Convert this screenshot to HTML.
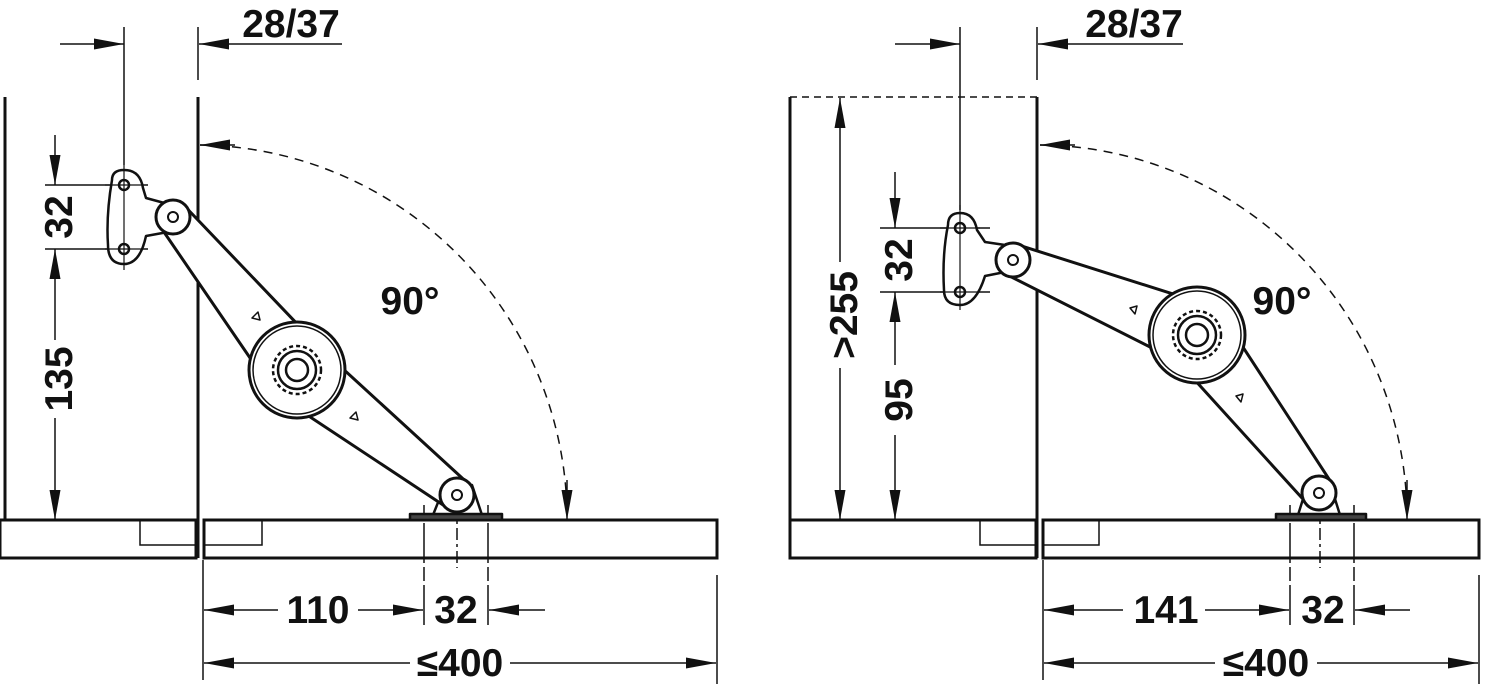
<!DOCTYPE html>
<html><head><meta charset="utf-8"><style>
html,body{margin:0;padding:0;background:#fff;}
svg{display:block;}
text{font-family:"Liberation Sans",Arial,sans-serif;font-weight:bold;font-size:39px;fill:#111;}
</style></head><body>
<svg width="1488" height="684" viewBox="0 0 1488 684" xmlns="http://www.w3.org/2000/svg">
<defs>
<marker id="a" viewBox="0 0 30 11" refX="30" refY="5.5" markerWidth="30" markerHeight="11" markerUnits="userSpaceOnUse" orient="auto"><path d="M0,0 L30,5.5 L0,11 Z" fill="#111"/></marker>
</defs>
<g stroke="#111" fill="none">
<line x1="5" y1="97" x2="5" y2="520" stroke-width="3"/>
<line x1="198" y1="97" x2="198" y2="558" stroke-width="3"/>
<line x1="198" y1="27" x2="198" y2="80" stroke-width="1.5"/>
<line x1="124" y1="27" x2="124" y2="165" stroke-width="1.5"/>
<rect x="0" y="520" width="196" height="38" stroke-width="3"/>
<rect x="140" y="520" width="56" height="25" stroke-width="1.5"/>
<rect x="204" y="520" width="513" height="38" stroke-width="3"/>
<rect x="204" y="520" width="58" height="25" stroke-width="1.5"/>
<line x1="60" y1="44" x2="124" y2="44" stroke-width="1.5" marker-end="url(#a)"/>
<line x1="342" y1="44" x2="199" y2="44" stroke-width="1.5" marker-end="url(#a)"/>
<path d="M 200 145 A 372 375 0 0 1 567 510" stroke-width="1.5" stroke-dasharray="9,7"/>
<line x1="235" y1="145" x2="200" y2="145" stroke-width="1.5" marker-end="url(#a)"/>
<line x1="567" y1="480" x2="567" y2="520" stroke-width="1.5" marker-end="url(#a)"/>
<line x1="45" y1="185" x2="148" y2="185" stroke-width="1.5"/>
<line x1="45" y1="249" x2="148" y2="249" stroke-width="1.5"/>
<line x1="55" y1="135" x2="55" y2="185" stroke-width="1.5" marker-end="url(#a)"/>
<line x1="55" y1="340" x2="55" y2="249" stroke-width="1.5" marker-end="url(#a)"/>
<line x1="55" y1="418" x2="55" y2="520" stroke-width="1.5" marker-end="url(#a)"/>
<line x1="203" y1="560" x2="203" y2="680" stroke-width="1.5"/>
<line x1="717" y1="575" x2="717" y2="684" stroke-width="1.5"/>
<line x1="424" y1="505" x2="424" y2="628" stroke-width="1.5" stroke-dasharray="14,4,40,4"/>
<line x1="488" y1="505" x2="488" y2="628" stroke-width="1.5" stroke-dasharray="14,4,40,4"/>
<line x1="457" y1="505" x2="457" y2="568" stroke-width="1.5" stroke-dasharray="12,4,3,4"/>
<line x1="278" y1="610" x2="204" y2="610" stroke-width="1.5" marker-end="url(#a)"/>
<line x1="358" y1="610" x2="423" y2="610" stroke-width="1.5" marker-end="url(#a)"/>
<line x1="545" y1="610" x2="489" y2="610" stroke-width="1.5" marker-end="url(#a)"/>
<line x1="410" y1="663" x2="204" y2="663" stroke-width="1.5" marker-end="url(#a)"/>
<line x1="510" y1="663" x2="716" y2="663" stroke-width="1.5" marker-end="url(#a)"/>

<line x1="790" y1="97" x2="1037" y2="97" stroke-width="1.5" stroke-dasharray="7,5"/>
<line x1="790" y1="97" x2="790" y2="520" stroke-width="3"/>
<line x1="1037" y1="97" x2="1037" y2="558" stroke-width="3"/>
<line x1="1037" y1="27" x2="1037" y2="80" stroke-width="1.5"/>
<line x1="960" y1="27" x2="960" y2="210" stroke-width="1.5"/>
<rect x="790" y="520" width="246" height="38" stroke-width="3"/>
<rect x="980" y="520" width="56" height="25" stroke-width="1.5"/>
<rect x="1043" y="520" width="436" height="38" stroke-width="3"/>
<rect x="1043" y="520" width="56" height="25" stroke-width="1.5"/>
<line x1="895" y1="44" x2="960" y2="44" stroke-width="1.5" marker-end="url(#a)"/>
<line x1="1183" y1="44" x2="1038" y2="44" stroke-width="1.5" marker-end="url(#a)"/>
<path d="M 1040 145 A 370 375 0 0 1 1407 510" stroke-width="1.5" stroke-dasharray="9,7"/>
<line x1="1075" y1="145" x2="1040" y2="145" stroke-width="1.5" marker-end="url(#a)"/>
<line x1="1407" y1="480" x2="1407" y2="520" stroke-width="1.5" marker-end="url(#a)"/>
<line x1="880" y1="228" x2="990" y2="228" stroke-width="1.5"/>
<line x1="880" y1="292" x2="990" y2="292" stroke-width="1.5"/>
<line x1="895" y1="172" x2="895" y2="228" stroke-width="1.5" marker-end="url(#a)"/>
<line x1="895" y1="365" x2="895" y2="292" stroke-width="1.5" marker-end="url(#a)"/>
<line x1="895" y1="435" x2="895" y2="520" stroke-width="1.5" marker-end="url(#a)"/>
<line x1="840" y1="262" x2="840" y2="98" stroke-width="1.5" marker-end="url(#a)"/>
<line x1="840" y1="368" x2="840" y2="520" stroke-width="1.5" marker-end="url(#a)"/>
<line x1="1043" y1="560" x2="1043" y2="680" stroke-width="1.5"/>
<line x1="1479" y1="575" x2="1479" y2="684" stroke-width="1.5"/>
<line x1="1290" y1="505" x2="1290" y2="628" stroke-width="1.5" stroke-dasharray="14,4,40,4"/>
<line x1="1354" y1="505" x2="1354" y2="628" stroke-width="1.5" stroke-dasharray="14,4,40,4"/>
<line x1="1320" y1="505" x2="1320" y2="568" stroke-width="1.5" stroke-dasharray="12,4,3,4"/>
<line x1="1123" y1="610" x2="1044" y2="610" stroke-width="1.5" marker-end="url(#a)"/>
<line x1="1205" y1="610" x2="1289" y2="610" stroke-width="1.5" marker-end="url(#a)"/>
<line x1="1410" y1="610" x2="1355" y2="610" stroke-width="1.5" marker-end="url(#a)"/>
<line x1="1215" y1="663" x2="1044" y2="663" stroke-width="1.5" marker-end="url(#a)"/>
<line x1="1317" y1="663" x2="1478" y2="663" stroke-width="1.5" marker-end="url(#a)"/>
</g>

<!-- hinge: left -->
<g stroke="#111" stroke-width="2.5" stroke-linejoin="round">
<path d="M112 180 Q112 170 124 170 Q140 170 143 188 L146 198 L168 204 L168 232 L146 236 Q140 264 124 264 Q108 264 108 245 Q106 215 112 180 Z" fill="#fff"/>
<circle cx="124" cy="185" r="5" fill="#fff"/><circle cx="124" cy="249" r="5" fill="#fff"/>
<line x1="105" y1="185" x2="143" y2="185" stroke-width="1.2"/><line x1="105" y1="249" x2="143" y2="249" stroke-width="1.2"/>
<line x1="124" y1="165" x2="124" y2="270" stroke-width="1.2"/>
<path d="M433 515 L445 485 L472 485 L482 515 Z" fill="#fff"/>
<rect x="410" y="514" width="92" height="6" fill="#444"/>
<polygon points="160.6,227.1 185.4,206.9 321.9,349.8 272.1,390.2" fill="#fff" stroke-width="3"/>
<polygon points="277.3,395.2 316.7,344.8 466.9,482.4 447.1,507.6" fill="#fff" stroke-width="3"/>
<circle cx="173" cy="217" r="17" fill="#fff" stroke-width="3"/>
<circle cx="457" cy="495" r="17" fill="#fff" stroke-width="3"/>
<circle cx="173" cy="217" r="5" fill="#fff" stroke-width="2"/>
<circle cx="457" cy="495" r="5" fill="#fff" stroke-width="2"/>
<circle cx="297" cy="370" r="48" fill="#fff" stroke-width="3"/>
<circle cx="297" cy="370" r="44" fill="none" stroke-width="1.5"/>
<circle cx="297" cy="370" r="24" fill="none" stroke-width="2.5" stroke-dasharray="4,3"/>
<circle cx="297" cy="370" r="19" fill="none" stroke-width="2.5"/>
<circle cx="297" cy="370" r="11" fill="none" stroke-width="2.5"/>
<path d="M252 318 l6 -6 l2 8 z" fill="#fff" stroke-width="1.5"/>
<path d="M350 418 l6 -6 l2 8 z" fill="#fff" stroke-width="1.5"/>
</g>

<!-- hinge: right -->
<g stroke="#111" stroke-width="2.5" stroke-linejoin="round">
<path d="M948 225 Q948 213 960 213 Q974 213 977 230 L985 242 L1005 245 L1005 272 L985 276 Q976 305 960 305 Q944 305 944 290 Q942 255 948 225 Z" fill="#fff"/>
<circle cx="960" cy="228" r="5" fill="#fff"/><circle cx="960" cy="292" r="5" fill="#fff"/>
<line x1="940" y1="228" x2="980" y2="228" stroke-width="1.2"/><line x1="940" y1="292" x2="980" y2="292" stroke-width="1.2"/>
<line x1="960" y1="205" x2="960" y2="310" stroke-width="1.2"/>
<path d="M1298 515 L1308 483 L1330 483 L1340 515 Z" fill="#fff"/>
<rect x="1276" y="514" width="90" height="6" fill="#444"/>
<polygon points="1007,274.8 1019,245.2 1209.1,305.4 1184.9,364.6" fill="#fff" stroke-width="3"/>
<polygon points="1171.7,354.6 1222.3,315.4 1331.7,483.2 1306.3,502.8" fill="#fff" stroke-width="3"/>
<circle cx="1013" cy="260" r="17" fill="#fff" stroke-width="3"/>
<circle cx="1319" cy="493" r="17" fill="#fff" stroke-width="3"/>
<circle cx="1013" cy="260" r="5" fill="#fff" stroke-width="2"/>
<circle cx="1319" cy="493" r="5" fill="#fff" stroke-width="2"/>
<circle cx="1197" cy="335" r="48" fill="#fff" stroke-width="3"/>
<circle cx="1197" cy="335" r="44" fill="none" stroke-width="1.5"/>
<circle cx="1197" cy="335" r="24" fill="none" stroke-width="2.5" stroke-dasharray="4,3"/>
<circle cx="1197" cy="335" r="19" fill="none" stroke-width="2.5"/>
<circle cx="1197" cy="335" r="11" fill="none" stroke-width="2.5"/>
<path d="M1130 308 l7 -2 l-2 8 z" fill="#fff" stroke-width="1.5"/>
<path d="M1236 396 l7 -2 l-2 8 z" fill="#fff" stroke-width="1.5"/>
</g>

<text x="291" y="37" text-anchor="middle">28/37</text>
<text x="1134" y="37" text-anchor="middle">28/37</text>
<text x="410" y="314" text-anchor="middle">90°</text>
<text x="1282" y="314" text-anchor="middle">90°</text>
<text x="318" y="623" text-anchor="middle">110</text>
<text x="456" y="623" text-anchor="middle">32</text>
<text x="460" y="676" text-anchor="middle">≤400</text>
<text x="1166" y="623" text-anchor="middle">141</text>
<text x="1323" y="623" text-anchor="middle">32</text>
<text x="1266" y="676" text-anchor="middle">≤400</text>
<text transform="translate(72,217) rotate(-90)" text-anchor="middle">32</text>
<text transform="translate(72,379) rotate(-90)" text-anchor="middle">135</text>
<text transform="translate(912,260) rotate(-90)" text-anchor="middle">32</text>
<text transform="translate(912,400) rotate(-90)" text-anchor="middle">95</text>
<text transform="translate(857,315) rotate(-90)" text-anchor="middle">&gt;255</text>
</svg>
</body></html>
